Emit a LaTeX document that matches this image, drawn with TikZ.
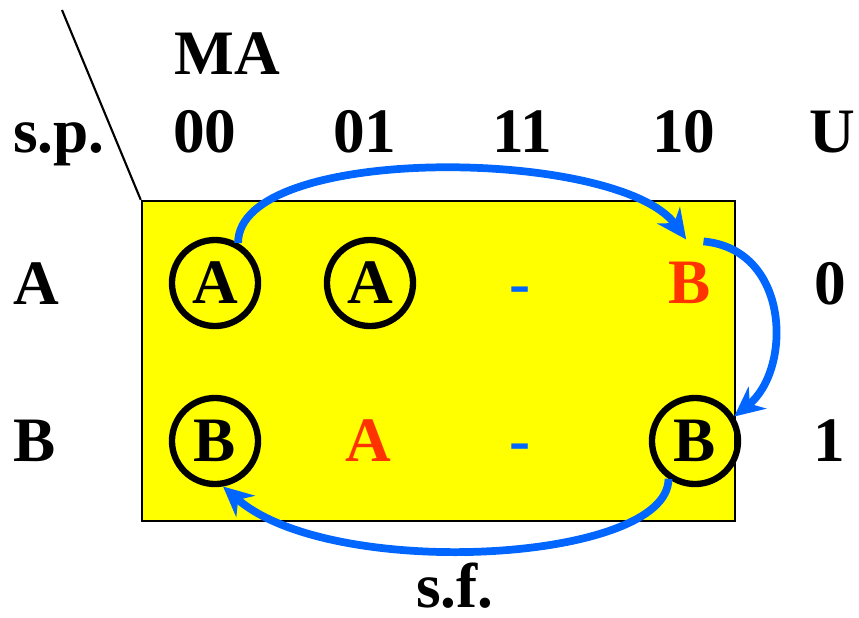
\documentclass[tikz,border=0pt]{standalone}
\usepackage{fontspec}
\setmainfont{LiberationSerif}[Extension=.ttf, UprightFont=*-Regular, BoldFont=*-Bold]
\usetikzlibrary{arrows.meta}

\definecolor{mapyellow}{HTML}{FFFF00}
\definecolor{flowblue}{HTML}{0066FF}
\definecolor{unstred}{HTML}{FF3300}

\begin{document}
\begin{tikzpicture}[x=0.01cm, y=-0.01cm,
  lbl/.style={font=\rmfamily\bfseries\fontsize{18}{20}\selectfont, inner sep=0pt, anchor=base},
  cell/.style={circle, minimum size=0.86cm, inner sep=0pt, font=\rmfamily\bfseries\fontsize{18}{20}\selectfont},
  stable/.style={cell, draw, line width=1.8pt},
  unstable/.style={cell, text=unstred},
  dontcare/.style={lbl, text=flowblue},
  flow/.style={draw=flowblue, line width=2.2pt, -{Stealth[length=8.5pt,width=8pt]}}]
\useasboundingbox (0,0) rectangle (859,617);

% the map
\node[draw, line width=0.6pt, fill=mapyellow, minimum width=5.93cm, minimum height=3.2cm, inner sep=0pt] (map) at (438.5,361) {};
\coordinate (slash) at (62,10);
\draw[line width=0.6pt] (slash) -- (map.north west);

% headings
\node[lbl] (ma) at (227,74) {MA};
\node[lbl] (sp) at (59,152) {s.p.};
\node[lbl] (c00) at (205,152) {00};
\node[lbl] (c01) at (365,152) {01};
\node[lbl] (c11) at (522,152) {11};
\node[lbl] (c10) at (684,152) {10};
\node[lbl] (u) at (832,152) {U};
\node[lbl] (ra) at (36,304) {A};
\node[lbl] (rb) at (35,461) {B};
\node[lbl] (ua) at (830,304) {0};
\node[lbl] (ub) at (829,461) {1};
\node[lbl] (sf) at (455,607) {s.f.};

% cells
\node[stable] (a00) at (215,283) {A};
\node[stable] (a01) at (370,283) {A};
\node[dontcare] (a11) at (520,304) {-};
\node[unstable] (a10) at (690,283) {B};
\node[stable] (b00) at (215,441) {B};
\node[unstable] (b01) at (368,441) {A};
\node[dontcare] (b11) at (520,461) {-};
\node[stable] (b10) at (695,441) {B};

% transitions
\draw[flow] (a00.60) .. controls +(0,-100) and +(-67,-92) .. (a10.95);
\draw[flow] (a10.72) .. controls +(87,8) and +(58,-47) .. (b10.32);
\draw[flow] (b10.235) .. controls +(0,84) and +(108,95) .. (b00.280);
\end{tikzpicture}
\end{document}
